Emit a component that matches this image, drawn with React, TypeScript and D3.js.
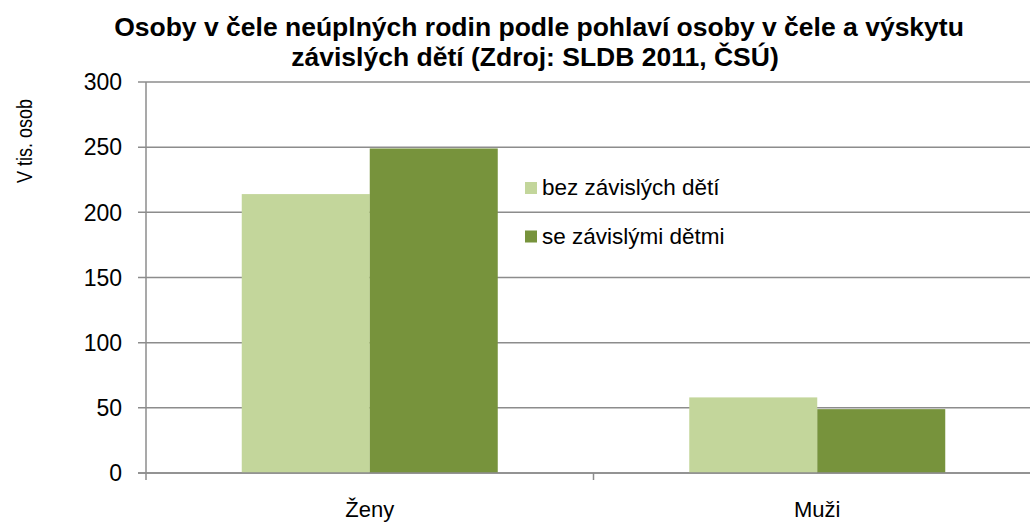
import { useEffect, useRef } from 'react';
import * as d3 from 'd3';

const categories = ['Ženy', 'Muži'];
const seriesNames = ['bez závislých dětí', 'se závislými dětmi'];
const bezDeti = [214, 58];
const seDetmi = [249, 49];
const yTicks = [0, 50, 100, 150, 200, 250, 300];
const colors = ['#C3D69B', '#77933C'];

const width = 1030;
const height = 522;
const margin = { top: 82, right: -11, bottom: 49, left: 146 };

export default function App() {
  const svgRef = useRef<SVGSVGElement>(null);

  useEffect(() => {
    if (!svgRef.current) return;
    const svg = d3.select(svgRef.current);
    svg.selectAll('*').remove();

    const font = '"Liberation Sans", Arial, sans-serif';
    const x0 = margin.left;
    const x1 = width - margin.right;
    const y0 = height - margin.bottom;

    const x = d3.scaleBand<string>().domain(categories).range([x0, x1]);
    const xs = d3.scaleBand<string>().domain(seriesNames).range([0, 256]);
    const y = d3.scaleLinear().domain([0, 300]).range([y0, margin.top]);

    svg.append('rect').attr('width', width).attr('height', height).attr('fill', '#fff');

    // gridlines
    svg.append('g')
      .selectAll('line')
      .data(yTicks)
      .join('line')
      .attr('x1', x0 - 8)
      .attr('x2', x1)
      .attr('y1', d => y(d))
      .attr('y2', d => y(d))
      .attr('stroke', '#8c8c8c')
      .attr('stroke-width', 1.5);

    // tick labels
    svg.append('g')
      .selectAll('text')
      .data(yTicks)
      .join('text')
      .attr('x', x0 - 24)
      .attr('y', d => y(d))
      .attr('dy', '0.36em')
      .attr('text-anchor', 'end')
      .attr('font-family', font)
      .attr('font-size', 23)
      .attr('fill', '#000')
      .text(d => d);

    // bars
    const values = [bezDeti, seDetmi];
    seriesNames.forEach((s, si) => {
      svg.append('g')
        .selectAll('rect')
        .data(categories)
        .join('rect')
        .attr('x', c => (x(c) as number) + (x.bandwidth() - 256) / 2 + (xs(s) as number))
        .attr('y', (c, i) => y(values[si][i]))
        .attr('width', xs.bandwidth())
        .attr('height', (c, i) => y0 - y(values[si][i]))
        .attr('fill', colors[si]);
    });

    // axes
    svg.append('line')
      .attr('x1', x0).attr('x2', x0)
      .attr('y1', margin.top).attr('y2', y0 + 7)
      .attr('stroke', '#8c8c8c').attr('stroke-width', 1.5);
    svg.append('line')
      .attr('x1', x0 - 8).attr('x2', x1)
      .attr('y1', y0).attr('y2', y0)
      .attr('stroke', '#8c8c8c').attr('stroke-width', 1.5);
    svg.append('g')
      .selectAll('line')
      .data(categories)
      .join('line')
      .attr('x1', c => (x(c) as number) + x.bandwidth())
      .attr('x2', c => (x(c) as number) + x.bandwidth())
      .attr('y1', y0)
      .attr('y2', y0 + 7)
      .attr('stroke', '#8c8c8c')
      .attr('stroke-width', 1.5);

    // category labels
    svg.append('g')
      .selectAll('text')
      .data(categories)
      .join('text')
      .attr('x', c => (x(c) as number) + x.bandwidth() / 2)
      .attr('y', 517)
      .attr('text-anchor', 'middle')
      .attr('font-family', font)
      .attr('font-size', 22)
      .text(c => c);

    // y label
    svg.append('text')
      .attr('transform', 'translate(32,141) rotate(-90)')
      .attr('text-anchor', 'middle')
      .attr('font-family', font)
      .attr('font-size', 22)
      .attr('textLength', 84)
      .attr('lengthAdjust', 'spacingAndGlyphs')
      .text('V tis. osob');

    // title
    const title = svg.append('text')
      .attr('text-anchor', 'middle')
      .attr('font-family', font)
      .attr('font-size', 26.5)
      .attr('font-weight', 'bold');
    title.append('tspan').attr('x', 539).attr('y', 36)
      .text('Osoby v čele neúplných rodin podle pohlaví osoby v čele a výskytu');
    title.append('tspan').attr('x', 535).attr('y', 66)
      .text('závislých dětí (Zdroj: SLDB 2011, ČSÚ)');

    // legend
    const legend = svg.append('g').attr('transform', 'translate(525,182)');
    seriesNames.forEach((s, i) => {
      const g = legend.append('g').attr('transform', `translate(0,${i * 48.5})`);
      g.append('rect').attr('width', 12).attr('height', 12).attr('fill', colors[i]);
      g.append('text')
        .attr('x', 17)
        .attr('y', 13)
        .attr('font-family', font)
        .attr('font-size', 22.5)
        .text(s);
    });
  }, []);

  return (
    <svg ref={svgRef} width={width} height={height} style={{ position: 'absolute', left: 0, top: 0 }} />
  );
}
